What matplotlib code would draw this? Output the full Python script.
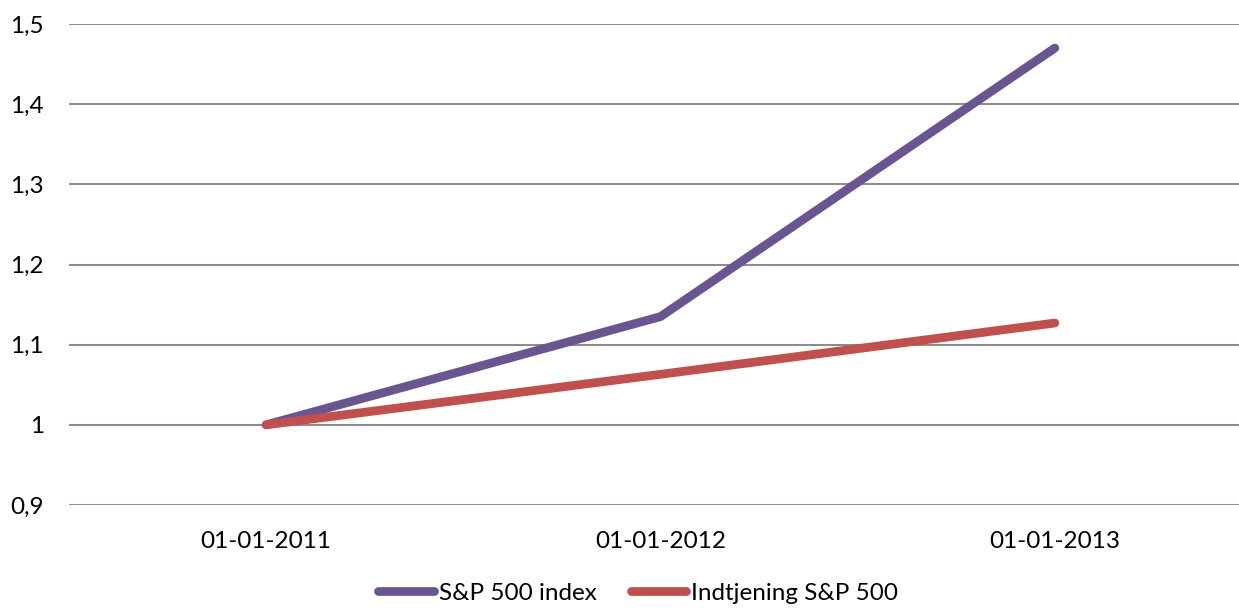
import matplotlib.pyplot as plt
from matplotlib.ticker import FixedLocator, FuncFormatter

DATES = ["01-01-2011", "01-01-2012", "01-01-2013"]
SP500_INDEX = [1.0, 1.135, 1.470]
EARNINGS = [1.0, 1.063, 1.127]

SERIES_COLOR = {
    "S&P 500 index": "#6B5591",
    "Indtjening S&P 500": "#C0504D",
}

plt.rcParams["font.family"] = ["Lato", "DejaVu Sans"]

fig = plt.figure(figsize=(12.39, 6.08), dpi=100)
# axis spans beyond the right edge of the image, as in the original export
ax = fig.add_axes([69 / 1239, 1 - 505 / 608, 1183 / 1239, (505 - 24) / 608])

x = range(len(DATES))
ax.plot(x, SP500_INDEX, color=SERIES_COLOR["S&P 500 index"], linewidth=6.3,
        solid_capstyle="round", solid_joinstyle="miter", label="S&P 500 index", zorder=3)
ax.plot(x, EARNINGS, color=SERIES_COLOR["Indtjening S&P 500"], linewidth=6.3,
        solid_capstyle="round", solid_joinstyle="miter", label="Indtjening S&P 500", zorder=3)

ax.set_xlim(-0.5, 2.5)
ax.set_ylim(0.9, 1.5)
ax.yaxis.set_major_locator(FixedLocator([0.9, 1.0, 1.1, 1.2, 1.3, 1.4, 1.5]))
ax.yaxis.set_major_formatter(FuncFormatter(lambda v, _: f"{v:g}".replace(".", ",")))
ax.set_xticks(list(x))
ax.set_xticklabels(DATES)
ax.tick_params(axis="both", length=0, labelsize=17.5, colors="black")
ax.tick_params(axis="y", pad=18)
ax.tick_params(axis="x", pad=19)

ax.grid(axis="y", color="#8c8c8c", linewidth=1.5)
ax.set_axisbelow(True)
for side in ["top", "right", "left", "bottom"]:
    ax.spines[side].set_visible(False)

handles, labels = ax.get_legend_handles_labels()
fig.legend(handles, labels, loc="center", bbox_to_anchor=(0.515, 1 - 593 / 608),
           ncol=2, frameon=False, fontsize=17.5, handlelength=2.3,
           handletextpad=0.2, columnspacing=1.4)

fig.savefig("out.png", dpi=100)
